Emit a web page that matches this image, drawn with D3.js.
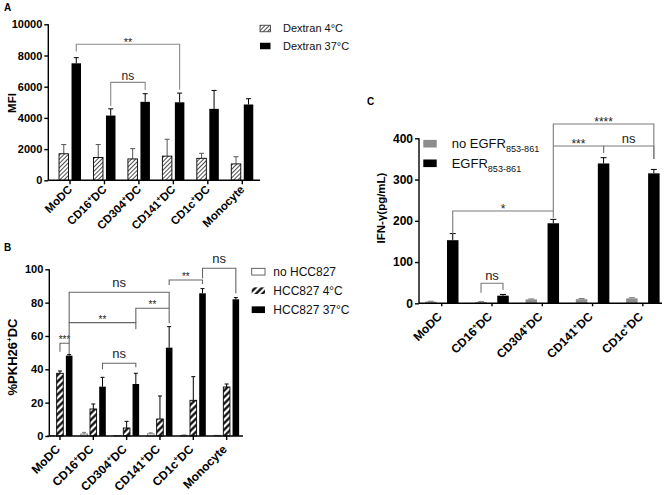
<!DOCTYPE html>
<html>
<head>
<meta charset="utf-8">
<script src="https://cdn.jsdelivr.net/npm/d3@7"></script>
<style>
	body { margin: 0; background: #fff; }
	svg { display: block; font-family: "Liberation Sans", Arial, sans-serif; }
	.axis path, .axis line { stroke: #000; stroke-width: 1.4; }
	.axis text { font-weight: bold; fill: #000; }
</style>
</head>
<body>
<svg id="fig" width="669" height="495"></svg>
<script>

// ---- values ----
var cellTypes = [ 'MoDC', 'CD16+DC', 'CD304+DC', 'CD141+DC', 'CD1c+DC', 'Monocyte' ];
var cellTypesC = [ 'MoDC', 'CD16+DC', 'CD304+DC', 'CD141+DC', 'CD1c+DC' ];

// A: dextran uptake (MFI)
var dextranNames = [ 'Dextran 4°C', 'Dextran 37°C' ];
var dextran4 = [ 1700, 1460, 1370, 1550, 1410, 1050 ];
var dextran4Err = [ 590, 830, 660, 1080, 320, 460 ];
var dextran37 = [ 7500, 4150, 5030, 5000, 4580, 4860 ];
var dextran37Err = [ 360, 430, 520, 590, 1180, 370 ];
var ticksA = [ 0, 2000, 4000, 6000, 8000, 10000 ];

// B: %PKH26+ DC
var hccNames = [ 'no HCC827', 'HCC827 4°C', 'HCC827 37°C' ];
var noHcc = [ 0.2, 1.2, 0.3, 1.3, 0.4, 0.4 ];
var noHccErr = [ 0, 1.0, 0, 0.6, 0.2, 0 ];
var hcc4 = [ 37.6, 16.2, 4.8, 10.2, 21.4, 29.4 ];
var hcc4Err = [ 1.4, 3.0, 4.0, 13.8, 14.2, 1.8 ];
var hcc37 = [ 48.2, 29.6, 31.2, 53, 85.6, 82 ];
var hcc37Err = [ 0.6, 5.6, 6.4, 12.6, 2.8, 1.0 ];
var ticksB = [ 0, 20, 40, 60, 80, 100 ];

// C: IFN-gamma (pg/mL)
var egfrNames = [ 'no EGFR', 'EGFR' ];
var egfrSub = '853-861';
var noEgfr = [ 4, 3, 9.5, 10, 12 ];
var noEgfrErr = [ 1, 1, 1, 1.5, 1.5 ];
var egfr = [ 153, 18.5, 194, 339, 315 ];
var egfrErr = [ 16, 3, 9.5, 14, 9.5 ];
var ticksC = [ 0, 100, 200, 300, 400 ];

// significance brackets: [category, series index], heights in data units
var bracketsA = [
	{ a: [ 'MoDC', 1 ], b: [ 'CD141+DC', 1 ], y: 8720, ya: 8250, yb: 5800, label: '**' },
	{ a: [ 'CD16+DC', 1 ], b: [ 'CD304+DC', 1 ], y: 6280, ya: 4760, yb: 5790, label: 'ns' }
];
var bracketsB = [
	{ a: [ 'MoDC', 1 ], b: [ 'MoDC', 2 ], y: 55.6, ya: 50.6, yb: 49.2, label: '***' },
	{ a: [ 'MoDC', 2 ], b: [ 'CD304+DC', 2 ], y: 68, ya: 55.6, yb: 64, label: '**' },
	{ a: [ 'MoDC', 2 ], b: [ 'CD141+DC', 2 ], y: 86.2, ya: 68, yb: 76.6, label: 'ns' },
	{ a: [ 'CD304+DC', 2 ], b: [ 'CD141+DC', 2 ], y: 76.6, ya: 68, yb: 67.6, label: '**' },
	{ a: [ 'CD16+DC', 2 ], b: [ 'CD304+DC', 2 ], y: 43.6, ya: 40, yb: 41.2, label: 'ns' },
	{ a: [ 'CD141+DC', 2 ], b: [ 'CD1c+DC', 2 ], y: 93.6, ya: 90.6, yb: 91.2, label: '**' },
	{ a: [ 'CD1c+DC', 2 ], b: [ 'Monocyte', 2 ], y: 100.6, ya: 94.6, yb: 85.6, label: 'ns' }
];
var bracketsC = [
	{ a: [ 'MoDC', 1 ], b: [ 'CD304+DC', 1 ], y: 223.8, ya: 168, yb: 207.5, label: '*' },
	{ a: [ 'CD16+DC', 0 ], b: [ 'CD16+DC', 1 ], y: 48.5, ya: 25.7, yb: 32.2, label: 'ns' },
	{ a: [ 'CD304+DC', 1 ], b: [ 'CD1c+DC', 1 ], y: 434.7, ya: 223.8, yb: 350, label: '****' },
	{ a: [ 'CD304+DC', 1 ], b: [ 'CD141+DC', 1 ], y: 381.3, ya: 381.3, yb: 365, label: '***' },
	{ a: [ 'CD141+DC', 1 ], b: [ 'CD1c+DC', 1 ], y: 381.3, ya: 365, yb: 350, label: 'ns' }
];

var svg = d3.select( '#fig' );
var defs = svg.append( 'defs' );

function makeHatch( id, gap, w, color ) {
	var p = defs.append( 'pattern' )
		.attr( 'id', id )
		.attr( 'patternUnits', 'userSpaceOnUse' )
		.attr( 'width', gap )
		.attr( 'height', gap )
		.attr( 'patternTransform', 'rotate(45)' );
	p.append( 'rect' ).attr( 'width', gap ).attr( 'height', gap ).attr( 'fill', '#fff' );
	p.append( 'line' )
		.attr( 'x1', gap / 2 ).attr( 'x2', gap / 2 )
		.attr( 'y1', 0 ).attr( 'y2', gap )
		.attr( 'stroke', color )
		.attr( 'stroke-width', w );
}

makeHatch( 'hatchThin', 3, 0.8, '#222' );
makeHatch( 'hatchBold', 4.6, 2.2, '#000' );

// writes "CD16+DC" as CD16 / superscript + / DC  (or a subscript in 'sub' mode)
function richText( sel, str, fs, mode ) {
	var parts = str.split( '+' );
	if ( mode === 'sub' ) {
		sel.append( 'tspan' ).text( parts[0] );
		sel.append( 'tspan' ).attr( 'dy', fs * 0.3 ).attr( 'font-size', fs * 0.7 ).text( parts[1] );
		return;
	}
	sel.append( 'tspan' ).text( parts[0] );
	if ( parts.length > 1 ) {
		sel.append( 'tspan' ).attr( 'dy', -fs * 0.38 ).attr( 'font-size', fs * 0.62 ).text( '+' );
		sel.append( 'tspan' ).attr( 'dy', fs * 0.38 ).text( parts[1] );
	}
}

function drawPanel( p ) {

	var g = svg.append( 'g' );

	var x = d3.scaleBand().domain( p.cats ).range( p.xRange );
	var xs = d3.scaleBand()
		.domain( d3.range( p.series.length ) )
		.range( [ -p.groupW / 2, p.groupW / 2 ] )
		.paddingInner( p.barPad );
	var y = d3.scaleLinear().domain( [ 0, p.yMax ] ).range( [ p.yBottom, p.yTop ] );

	function bx( cat, si ) {
		return x( cat ) + x.bandwidth() / 2 + xs( si ) + xs.bandwidth() / 2;
	}

	// bars + upper whiskers
	p.series.forEach( function ( s, si ) {
		var sg = g.append( 'g' );
		var rows = s.values.map( function ( v, i ) {
			return { cat: p.cats[i], v: v, e: s.errs[i] };
		} );
		var withErr = rows.filter( function ( d ) { return d.e > 0; } );

		sg.selectAll( 'line.err' ).data( withErr ).join( 'line' )
			.attr( 'class', 'err' )
			.attr( 'x1', function ( d ) { return bx( d.cat, si ); } )
			.attr( 'x2', function ( d ) { return bx( d.cat, si ); } )
			.attr( 'y1', function ( d ) { return y( d.v ); } )
			.attr( 'y2', function ( d ) { return y( d.v + d.e ); } )
			.attr( 'stroke', s.errColor )
			.attr( 'stroke-width', 1 );

		sg.selectAll( 'line.cap' ).data( withErr ).join( 'line' )
			.attr( 'class', 'cap' )
			.attr( 'x1', function ( d ) { return bx( d.cat, si ) - p.cap / 2; } )
			.attr( 'x2', function ( d ) { return bx( d.cat, si ) + p.cap / 2; } )
			.attr( 'y1', function ( d ) { return y( d.v + d.e ); } )
			.attr( 'y2', function ( d ) { return y( d.v + d.e ); } )
			.attr( 'stroke', s.errColor )
			.attr( 'stroke-width', 1 );

		sg.selectAll( 'rect' ).data( rows ).join( 'rect' )
			.attr( 'x', function ( d ) { return bx( d.cat, si ) - xs.bandwidth() / 2; } )
			.attr( 'y', function ( d ) { return y( d.v ); } )
			.attr( 'width', xs.bandwidth() )
			.attr( 'height', function ( d ) { return y( 0 ) - y( d.v ); } )
			.attr( 'fill', s.fill )
			.attr( 'stroke', s.stroke || 'none' )
			.attr( 'stroke-width', 0.9 );
	} );

	// y axis
	var yAxis = g.append( 'g' )
		.attr( 'class', 'axis' )
		.attr( 'transform', 'translate(' + p.yAxisX + ',0)' )
		.call( d3.axisLeft( y )
			.tickValues( p.ticks )
			.tickFormat( d3.format( 'd' ) )
			.tickSize( 4 )
			.tickSizeOuter( 0 )
			.tickPadding( 2 ) );
	yAxis.selectAll( 'text' ).attr( 'font-size', p.tickFs );
	yAxis.select( '.domain' ).attr( 'd', 'M0,' + y( 0 ) + 'V' + y( p.yMax ) );

	// x axis
	var xAxis = g.append( 'g' )
		.attr( 'class', 'axis' )
		.attr( 'transform', 'translate(0,' + p.yBottom + ')' )
		.call( d3.axisBottom( x ).tickSize( p.xTick ).tickSizeOuter( 0 ).tickFormat( '' ) );
	xAxis.select( '.domain' ).attr( 'd', 'M' + p.yAxisX + ',0H' + p.xAxisEnd );
	xAxis.selectAll( '.tick' ).each( function ( d ) {
		var t = d3.select( this ).append( 'text' )
			.attr( 'transform', 'translate(' + p.labOff[0] + ',' + p.labOff[1] + ') rotate(-45)' )
			.attr( 'text-anchor', 'end' )
			.attr( 'dy', '0.35em' )
			.attr( 'font-size', p.labFs );
		richText( t, d, p.labFs );
	} );

	// axis title
	var title = g.append( 'text' )
		.attr( 'transform', 'translate(' + p.title.x + ',' + p.title.y + ') rotate(-90)' )
		.attr( 'text-anchor', 'middle' )
		.attr( 'dy', '0.35em' )
		.attr( 'font-weight', 'bold' )
		.attr( 'font-size', p.title.fs );
	richText( title, p.title.text, p.title.fs );

	// panel letter
	g.append( 'text' )
		.attr( 'x', p.letter[0] ).attr( 'y', p.letter[1] )
		.attr( 'font-weight', 'bold' )
		.attr( 'font-size', 10 )
		.text( p.letter[2] );

	// brackets
	p.brackets.forEach( function ( b ) {
		var xa = bx( b.a[0], b.a[1] ), xb = bx( b.b[0], b.b[1] );
		g.append( 'path' )
			.attr( 'd', 'M' + xa + ',' + y( b.ya ) + 'V' + y( b.y ) + 'H' + xb + 'V' + y( b.yb ) )
			.attr( 'fill', 'none' )
			.attr( 'stroke', p.bracketColor )
			.attr( 'stroke-width', 1.1 );
		var isNs = b.label === 'ns';
		g.append( 'text' )
			.attr( 'x', ( xa + xb ) / 2 )
			.attr( 'y', y( b.y ) + ( isNs ? p.nsOff : p.starOff ) )
			.attr( 'text-anchor', 'middle' )
			.attr( 'font-size', isNs ? p.nsFs : p.starFs )
			.attr( 'fill', '#222' )
			.text( b.label );
	} );

	// legend
	var lg = p.legend;
	p.series.forEach( function ( s, si ) {
		var cy = lg.y + si * lg.dy;
		g.append( 'rect' )
			.attr( 'x', lg.x ).attr( 'y', cy - lg.h / 2 )
			.attr( 'width', lg.w ).attr( 'height', lg.h )
			.attr( 'fill', s.fill )
			.attr( 'stroke', s.legendStroke || 'none' )
			.attr( 'stroke-width', 0.9 );
		var t = g.append( 'text' )
			.attr( 'x', lg.tx ).attr( 'y', cy )
			.attr( 'dy', '0.36em' )
			.attr( 'font-size', lg.fs )
			.attr( 'fill', '#111' );
		if ( p.legendSub ) {
			richText( t, s.name + '+' + p.legendSub, lg.fs, 'sub' );
		} else {
			t.text( s.name );
		}
	} );
}

drawPanel( {
	cats: cellTypes,
	series: [
		{ name: dextranNames[0], values: dextran4, errs: dextran4Err, fill: 'url(#hatchThin)', stroke: '#000', errColor: '#555', legendStroke: '#444' },
		{ name: dextranNames[1], values: dextran37, errs: dextran37Err, fill: '#000', errColor: '#000' }
	],
	xRange: [ 52.8, 259.5 ], groupW: 22, barPad: 0.24,
	yBottom: 180.3, yTop: 24.3, yMax: 10000, ticks: ticksA,
	yAxisX: 48.3, xAxisEnd: 260, xTick: 4, cap: 5,
	tickFs: 11, labFs: 11.5, labOff: [ 0, 7 ],
	title: { text: 'MFI', x: 12, y: 103, fs: 11.5 },
	letter: [ 4, 11, 'A' ],
	brackets: bracketsA, bracketColor: '#8a8a8a',
	nsOff: -2.5, starOff: 1.5, nsFs: 12, starFs: 11,
	legend: { x: 260, y: 28.5, dy: 17.5, w: 10.5, h: 6.5, tx: 283, fs: 11 }
} );

drawPanel( {
	cats: cellTypes,
	series: [
		{ name: hccNames[0], values: noHcc, errs: noHccErr, fill: '#fff', stroke: '#777', errColor: '#777', legendStroke: '#555' },
		{ name: hccNames[1], values: hcc4, errs: hcc4Err, fill: 'url(#hatchBold)', stroke: '#000', errColor: '#000' },
		{ name: hccNames[2], values: hcc37, errs: hcc37Err, fill: '#000', errColor: '#000' }
	],
	xRange: [ 43.3, 243.3 ], groupW: 25, barPad: 0.283,
	yBottom: 436, yTop: 269.3, yMax: 100, ticks: ticksB,
	yAxisX: 49.3, xAxisEnd: 243, xTick: 4, cap: 4,
	tickFs: 11, labFs: 12, labOff: [ -2, 11 ],
	title: { text: '%PKH26+DC', x: 12, y: 357, fs: 13 },
	letter: [ 4, 251, 'B' ],
	brackets: bracketsB, bracketColor: '#666',
	nsOff: -5, starOff: 0, nsFs: 13, starFs: 10,
	legend: { x: 251.7, y: 271.7, dy: 19, w: 13.3, h: 6.7, tx: 273.3, fs: 12 }
} );

drawPanel( {
	cats: cellTypesC,
	series: [
		{ name: egfrNames[0], values: noEgfr, errs: noEgfrErr, fill: '#8c8c8c', errColor: '#777' },
		{ name: egfrNames[1], values: egfr, errs: egfrErr, fill: '#000', errColor: '#000' }
	],
	legendSub: egfrSub,
	xRange: [ 416.6, 668 ], groupW: 33.5, barPad: 0.477,
	yBottom: 303.3, yTop: 138.3, yMax: 400, ticks: ticksC,
	yAxisX: 419, xAxisEnd: 662, xTick: 3, cap: 6,
	tickFs: 12, labFs: 12, labOff: [ -2, 11 ],
	title: { text: 'IFN-\u03b3(pg/mL)', x: 381, y: 208, fs: 11.5 },
	letter: [ 367, 105, 'C' ],
	brackets: bracketsC, bracketColor: '#7a7a7a',
	nsOff: -3.5, starOff: 2, nsFs: 13, starFs: 12,
	legend: { x: 423.3, y: 143.7, dy: 19.6, w: 13.4, h: 7.6, tx: 451.7, fs: 13 }
} );

</script>
</body>
</html>
